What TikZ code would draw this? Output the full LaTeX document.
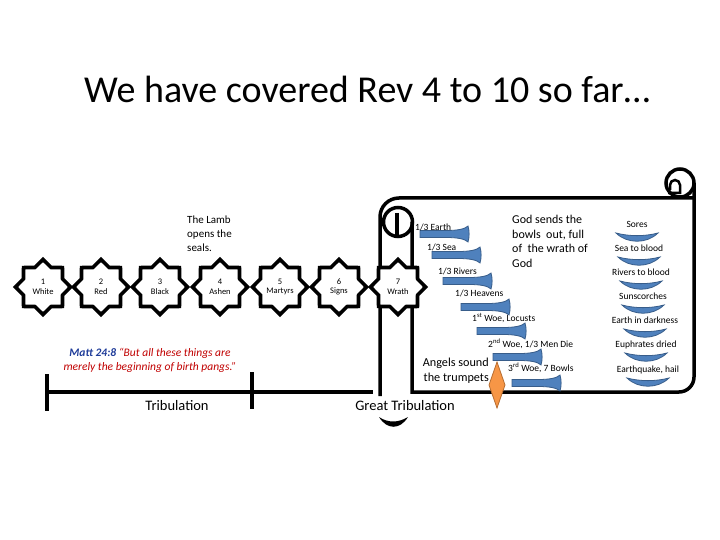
\documentclass[tikz,border=0pt]{standalone}
\usepackage{fontspec}
\setmainfont{Carlito}
\usetikzlibrary{shapes.geometric}
\definecolor{hornblue}{HTML}{4F81BD}
\definecolor{hornedge}{HTML}{385D8A}
\definecolor{angel}{HTML}{F79646}
\definecolor{angeledge}{HTML}{B66D31}
\definecolor{mattblue}{HTML}{1F3C99}
\definecolor{mattred}{HTML}{C00000}

\begin{document}
\begin{tikzpicture}[x=1pt,y=-1pt,
  seal/.style={star,star points=8,star point ratio=1.3,draw,line width=3.6pt,fill=white,
    minimum size=55pt,inner sep=0pt,align=center,font=\fontsize{8.5}{9.5}\selectfont},
  scroll/.style={line width=3.5pt},
  brass/.style={draw=hornedge,fill=hornblue,line width=0.8pt},
  tag/.style={font=\fontsize{9.5}{11}\selectfont,inner sep=0pt},
  note/.style={font=\fontsize{12}{14.5}\selectfont,inner sep=0pt},
  trumpet/.pic={\filldraw[brass] (0,-3.5) -- (26,-3.5) .. controls (38,-3.5) and (45,-5) .. (48,-8)
    .. controls (49.5,-3) and (49.5,3) .. (48,8) .. controls (45,5) and (38,3.5) .. (26,3.5) -- (0,3.5) -- cycle;},
  bowl/.pic={\filldraw[brass] (-21,-2) .. controls (-8,1.5) and (8,1.5) .. (21,-2) .. controls (10,9) and (-10,9) .. cycle;}]
\useasboundingbox (0,0) rectangle (720,540);

\node[font=\fontsize{38}{44}\selectfont] (title) at (367,89) {We have covered Rev 4 to 10 so far…};

% scroll
\draw[scroll] (380,396) -- (380,217) arc[start angle=180,end angle=270,radius=19] -- (694,198);
\draw[scroll] (680,183) circle[radius=14];
\draw[scroll] (694,183) -- (694,377) arc[start angle=0,end angle=90,radius=15] -- (412,392) -- (412,222);
\draw[scroll] (398,222) circle[radius=14.5];
\draw[scroll] (397,213) -- (397,236);
\draw[line width=2.5pt] (668,193) -- (680,193) -- (680,185) arc[start angle=0,end angle=-180,radius=5] -- (670,190);
\fill (379,417) .. controls (388,423) and (398,423) .. (408,417) .. controls (400,430) and (387,430) .. cycle;

% timeline
\draw[scroll] (47,392) -- (373,392);
\draw[scroll] (47,374) -- (47,411);
\draw[scroll] (252,372) -- (252,409);
\node[font=\fontsize{14.5}{17}\selectfont] (trib) at (177,406) {Tribulation};
\node[font=\fontsize{14.5}{17}\selectfont] (gtrib) at (405,406) {Great Tribulation};

\foreach \i/\x/\t in {1/43/White,2/101/Red,3/160/Black,4/220/Ashen,5/280/Martyrs,6/339/Signs,7/398/Wrath}
  {\node[seal] (s\i) at (\x,287) {\i\\\t};}

\node[note,font=\fontsize{11}{14}\selectfont,align=left,anchor=west] (lamb) at (187,234) {The Lamb\\opens the\\seals.};
\node[note,align=left,anchor=west] (god) at (512,241.5) {God sends the\\bowls\ \ out, full\\of\ \ the wrath of\\God};
\node[note,font=\fontsize{12.2}{15}\selectfont,align=right,anchor=east] (angels) at (489,370.5) {Angels sound\\the trumpets};
\node[font=\fontsize{11.5}{13.5}\selectfont\itshape,text=mattred,align=center] (matt) at (150,360.5)
  {{\color{mattblue}\bfseries Matt 24:8} “But all these things are\\merely the beginning of birth pangs.”};

% trumpets
\foreach \x/\y/\lx/\ly/\t [count=\k] in {420/234/415/227/{1/3 Earth},432/255/427/247/{1/3 Sea},
  443/281/438/271/{1/3 Rivers},461/307/455/293/{1/3 Heavens},477/331/472/318/{1\textsuperscript{st} Woe, Locusts},
  493/357/488/344/{2\textsuperscript{nd} Woe, 1/3 Men Die},512/383/508/368/{3\textsuperscript{rd} Woe, 7 Bowls}}
  {\pic at (\x,\y) {trumpet};
   \node[tag,anchor=west] (horn\k) at (\lx,\ly) {\t};}
\filldraw[draw=angeledge,fill=angel,line width=0.8pt] (497,362) -- (505,385) -- (497,408) -- (489,385) -- cycle;

% bowls
\foreach \x/\y/\t [count=\k] in {637/235/Sores,639/259/Sea to blood,641/283/Rivers to blood,643/307/Sunscorches,
  645/331/Earth in darkness,646/355/Euphrates dried,648/380/{Earthquake, hail}}
  {\pic at (\x,\y) {bowl};
   \node[tag] (bowl\k) at (\x,\y-10.5) {\t};}
\end{tikzpicture}
\end{document}
